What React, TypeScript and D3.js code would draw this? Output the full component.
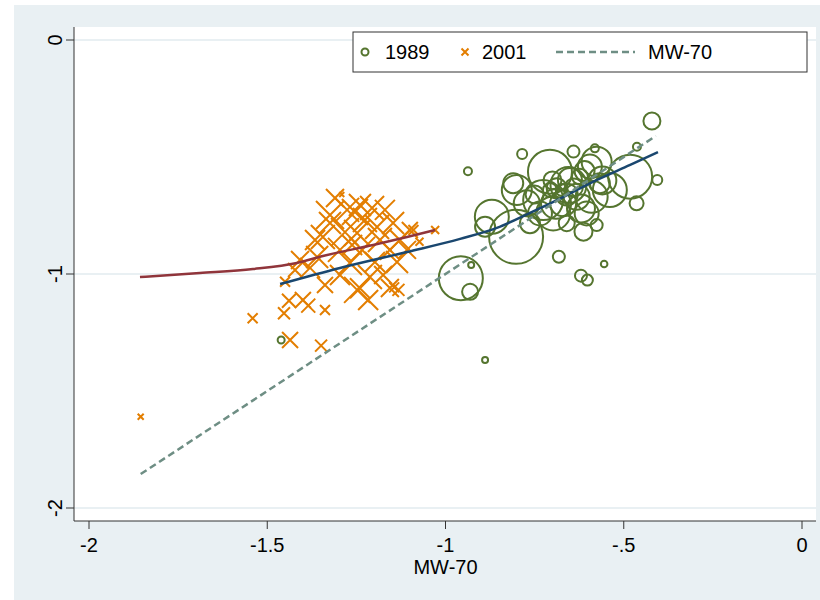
import { useMemo } from "react";
import * as d3 from "d3";

// 1989: [mw70, value, size]
const pts1989: [number, number, number][] = [
  [-0.421, -0.346, 8.5], [-0.785, -0.487, 5], [-0.937, -0.561, 4], [-0.406, -0.598, 5],
  [-0.802, -0.841, 27], [-0.87, -0.755, 17], [-0.889, -0.798, 10], [-0.957, -1.018, 22],
  [-0.931, -1.076, 8], [-0.928, -0.962, 3], [-0.682, -0.926, 6], [-0.555, -0.957, 3.3],
  [-0.62, -1.007, 6], [-0.602, -1.026, 5.5], [-0.707, -0.563, 22], [-0.482, -0.584, 22],
  [-0.464, -0.698, 7], [-0.463, -0.456, 4], [-0.641, -0.477, 6], [-0.581, -0.463, 4],
  [-0.576, -0.52, 15], [-0.8, -0.641, 15], [-0.772, -0.698, 13], [-0.651, -0.598, 12],
  [-0.632, -0.67, 13], [-0.698, -0.741, 17], [-0.726, -0.684, 20], [-0.67, -0.698, 13],
  [-0.688, -0.634, 10], [-0.707, -0.641, 7], [-0.674, -0.641, 6], [-0.623, -0.584, 8],
  [-0.595, -0.541, 12], [-0.539, -0.641, 17], [-0.567, -0.612, 10], [-0.576, -0.791, 6],
  [-0.613, -0.819, 9], [-0.66, -0.783, 8], [-0.604, -0.741, 12], [-0.735, -0.741, 12],
  [-0.763, -0.783, 10], [-0.81, -0.612, 10], [-0.889, -1.368, 3], [-1.461, -1.282, 3.5],
  [-0.655, -0.62, 18], [-0.59, -0.67, 16], [-0.69, -0.7, 15], [-0.62, -0.72, 14],
  [-0.66, -0.66, 11], [-0.64, -0.63, 9], [-0.7, -0.6, 9], [-0.56, -0.6, 14],
  [-0.75, -0.66, 9], [-0.61, -0.56, 10],
];

// 2001: [mw70, value, size]
const pts2001: [number, number, number][] = [
  [-1.855, -1.61, 3], [-1.541, -1.189, 5], [-1.45, -1.033, 5], [-1.439, -1.114, 7],
  [-1.453, -1.168, 6], [-1.436, -1.282, 8], [-1.349, -1.306, 6], [-1.385, -1.135, 7],
  [-1.338, -1.154, 5], [-1.291, -0.66, 2.5], [-1.029, -0.812, 4], [-1.073, -0.862, 4],
  [-1.09, -0.812, 5], [-1.132, -1.068, 6], [-1.144, -1.057, 5], [-1.217, -1.111, 10],
  [-1.24, -1.061, 10], [-1.324, -0.748, 14], [-1.254, -0.735, 13], [-1.282, -0.821, 14],
  [-1.206, -0.718, 12], [-1.344, -0.842, 12], [-1.38, -0.974, 10], [-1.136, -0.949, 11],
  [-1.212, -1.013, 12], [-1.248, -1.068, 13], [-1.156, -1.06, 9], [-1.4, -1.111, 8],
  [-1.234, -0.897, 13], [-1.184, -0.855, 12], [-1.296, -0.897, 12], [-1.324, -0.782, 11],
  [-1.276, -0.726, 12], [-1.147, -0.782, 11], [-1.108, -0.897, 9], [-1.36, -0.927, 11],
  [-1.268, -0.953, 12], [-1.192, -0.799, 12], [-1.248, -0.825, 13], [-1.226, -0.769, 12],
  [-1.17, -0.726, 10], [-1.31, -0.675, 9], [-1.408, -0.94, 9], [-1.128, -0.855, 10],
  [-1.1, -0.812, 8], [-1.296, -1.004, 10], [-1.338, -1.047, 8], [-1.198, -0.949, 10],
  [-1.24, -0.705, 11], [-1.156, -0.897, 10], [-1.366, -0.855, 10], [-1.422, -0.983, 7],
  [-1.175, -1.004, 9], [-1.262, -0.876, 10],
];

const fit1989: [number, number][] = [
  [-1.464, -1.043], [-1.296, -0.974], [-1.108, -0.906], [-0.959, -0.85], [-0.856, -0.803],
  [-0.763, -0.739], [-0.67, -0.671], [-0.575, -0.598], [-0.482, -0.534], [-0.404, -0.479],
];

const fit2001: [number, number][] = [
  [-1.857, -1.013], [-1.689, -0.996], [-1.54, -0.979], [-1.417, -0.953], [-1.344, -0.923],
  [-1.203, -0.876], [-1.108, -0.842], [-1.029, -0.812],
];

const diag: [number, number][] = [[-1.855, -1.855], [-0.41, -0.41]];

const xTicks = [-2, -1.5, -1, -0.5, 0];
const xTickLabels = ["-2", "-1.5", "-1", "-.5", "0"];
const yTicks = [0, -1, -2];
const yTickLabels = ["0", "-1", "-2"];

const GREEN = "#55752f";
const ORANGE = "#e37e00";
const NAVY = "#1a476f";
const MAROON = "#90353b";
const TEAL = "#6e8e84";
const BG = "#e9f0f3";
const FONT = "Liberation Sans, Arial, sans-serif";
const FS = 20;

export default function App() {
  const x = useMemo(() => d3.scaleLinear().domain([-2, 0]).range([89, 802]), []);
  const y = useMemo(() => d3.scaleLinear().domain([0, -2]).range([40, 508]), []);
  const line = d3
    .line<[number, number]>()
    .x((d) => x(d[0]))
    .y((d) => y(d[1]))
    .curve(d3.curveMonotoneX);
  const straight = d3
    .line<[number, number]>()
    .x((d) => x(d[0]))
    .y((d) => y(d[1]));

  const left = 74, right = 816, top = 27, bottom = 521;

  return (
    <svg width={820} height={600} style={{ position: "absolute", left: 0, top: 0, background: "#fff" }}>
      <rect x={14} y={5} width={806} height={595} fill={BG} />
      <rect x={left} y={top} width={right - left} height={bottom - top} fill="#fff" />
      {yTicks.map((t) => (
        <line key={t} x1={left} x2={right} y1={y(t)} y2={y(t)} stroke={BG} strokeWidth={2} />
      ))}

      {pts1989.map((d, i) => (
        <circle key={i} cx={x(d[0])} cy={y(d[1])} r={d[2]} fill="none" stroke={GREEN} strokeWidth={2} />
      ))}
      {pts2001.map((d, i) => {
        const cx = x(d[0]), cy = y(d[1]), h = d[2];
        return (
          <path
            key={i}
            d={`M${cx - h},${cy - h}L${cx + h},${cy + h}M${cx - h},${cy + h}L${cx + h},${cy - h}`}
            stroke={ORANGE}
            strokeWidth={2}
            fill="none"
          />
        );
      })}

      <path d={line(fit2001) ?? ""} fill="none" stroke={MAROON} strokeWidth={2.5} />
      <path d={line(fit1989) ?? ""} fill="none" stroke={NAVY} strokeWidth={2.5} />
      <path d={straight(diag) ?? ""} fill="none" stroke={TEAL} strokeWidth={2.5} strokeDasharray="7,4" />

      {/* axes */}
      <line x1={left} x2={left} y1={top} y2={bottom} stroke="#333" strokeWidth={1} />
      <line x1={left} x2={right} y1={bottom} y2={bottom} stroke="#333" strokeWidth={1} />
      {yTicks.map((t, i) => (
        <g key={t}>
          <line x1={left - 8} x2={left} y1={y(t)} y2={y(t)} stroke="#333" />
          <text
            transform={`translate(62,${y(t)}) rotate(-90)`}
            textAnchor="middle"
            fontFamily={FONT}
            fontSize={FS}
            fill="#000"
          >
            {yTickLabels[i]}
          </text>
        </g>
      ))}
      {xTicks.map((t, i) => (
        <g key={t}>
          <line x1={x(t)} x2={x(t)} y1={bottom} y2={bottom + 8} stroke="#333" />
          <text x={x(t)} y={552} textAnchor="middle" fontFamily={FONT} fontSize={FS} fill="#000">
            {xTickLabels[i]}
          </text>
        </g>
      ))}
      <text x={x(-1)} y={574} textAnchor="middle" fontFamily={FONT} fontSize={FS} fill="#000">
        MW-70
      </text>

      {/* legend */}
      <rect x={353} y={32} width={454} height={40} fill="#fff" stroke="#333" strokeWidth={1} />
      <circle cx={365} cy={52} r={3.5} fill="none" stroke={GREEN} strokeWidth={2} />
      <text x={385} y={59} fontFamily={FONT} fontSize={FS}>1989</text>
      <path d="M461.5,48.5L468.5,55.5M461.5,55.5L468.5,48.5" stroke={ORANGE} strokeWidth={2} />
      <text x={482} y={59} fontFamily={FONT} fontSize={FS}>2001</text>
      <line x1={556} x2={635} y1={52} y2={52} stroke={TEAL} strokeWidth={2.5} strokeDasharray="7,4" />
      <text x={648} y={59} fontFamily={FONT} fontSize={FS}>MW-70</text>
    </svg>
  );
}
